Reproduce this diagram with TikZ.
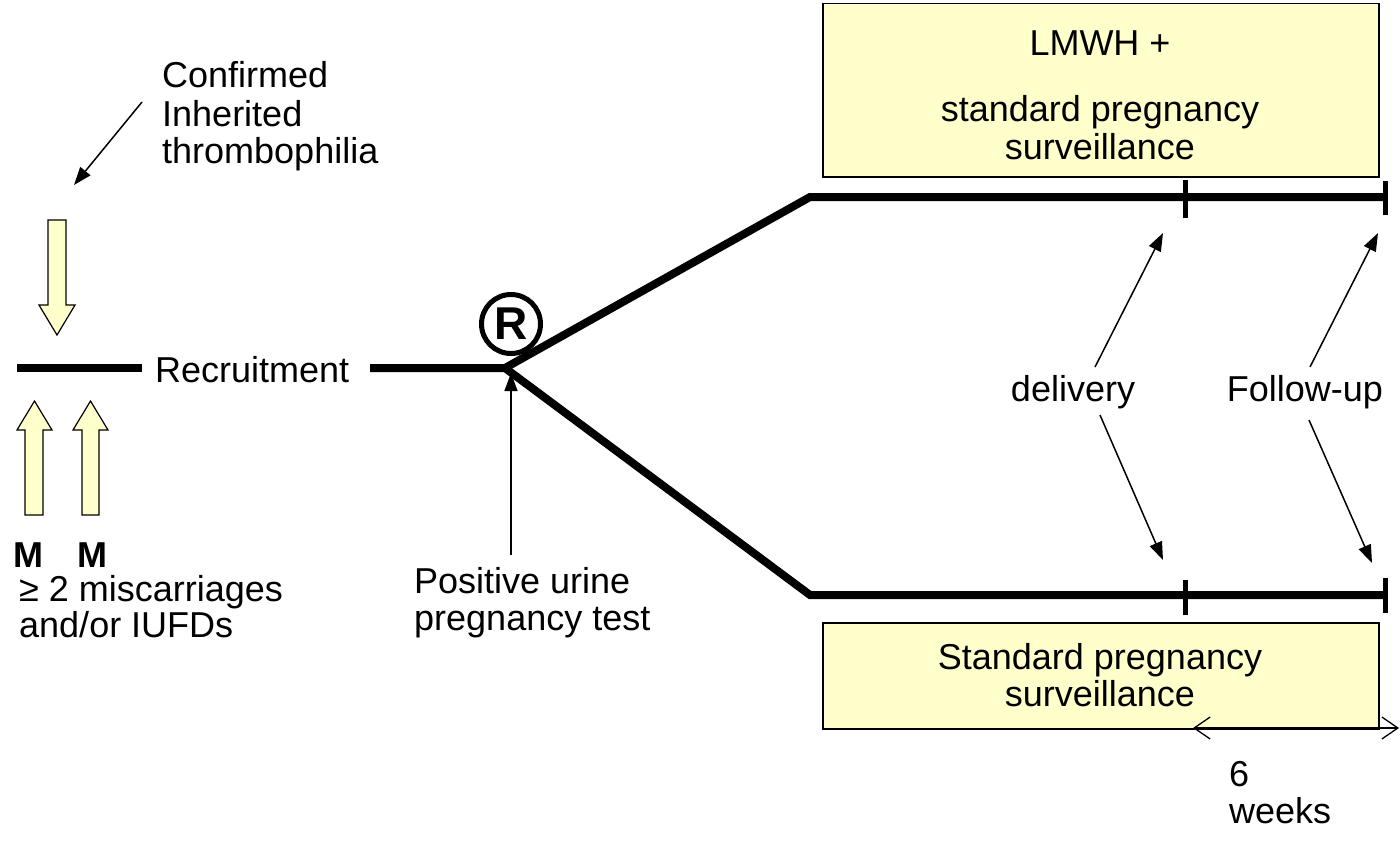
\documentclass[tikz,border=0pt]{standalone}
\usepackage{fontspec}
\setmainfont{Liberation Sans}
\usetikzlibrary{arrows.meta}
\definecolor{pale}{HTML}{FFFFCC}
\begin{document}
\begin{tikzpicture}[x=1pt,y=-1pt,
  txt/.style={font=\fontsize{36}{37.5}\selectfont, inner sep=0pt},
  mtxt/.style={font=\fontsize{36}{38}\selectfont\bfseries, inner sep=0pt},
  bar/.style={line width=8pt},
  tickmark/.style={line width=5pt},
  ptr/.style={line width=1.5pt,-{Triangle[length=18pt,width=13pt]}},
  span/.style={line width=1.3pt,{Straight Barb[length=16pt,width=22pt]}-{Straight Barb[length=16pt,width=22pt]}},
  box/.style={draw=black, line width=1.5pt, fill=pale, inner sep=0pt, anchor=north west},
  blk/.style={draw=black, line width=1.2pt, fill=pale, line join=miter}]
\useasboundingbox (0,0) rectangle (1400,843);

% boxes
\node[box, minimum width=556pt, minimum height=173pt] (topbox) at (822,3) {};
\node[box, minimum width=556pt, minimum height=106pt] (botbox) at (822,622) {};
\node[txt, anchor=base] (lmwh) at (1100,56) {LMWH +};
\node[txt, anchor=base] (sp1) at (1100,121) {standard pregnancy};
\node[txt, anchor=base] (sv1) at (1100,159) {surveillance};
\node[txt, anchor=base] (sp2) at (1100,669) {Standard pregnancy};
\node[txt, anchor=base] (sv2) at (1100,706) {surveillance};

% left texts
\node[txt, anchor=base west] (conf) at (162,88) {Confirmed};
\node[txt, anchor=base west] (inh) at (162,126) {Inherited};
\node[txt, anchor=base west] (thr) at (162,163) {thrombophilia};
\node[txt, anchor=base west] (recr) at (155,382) {Recruitment};
\node[mtxt, anchor=base] (m1) at (28,567) {M};
\node[mtxt, anchor=base] (m2) at (92,567) {M};
\node[txt, anchor=base west] (misc) at (19,601) {≥ 2 miscarriages};
\node[txt, anchor=base west] (iufd) at (19,637) {and/or IUFDs};
\node[txt, anchor=base west] (pos) at (414,593) {Positive urine};
\node[txt, anchor=base west] (pt) at (414,630) {pregnancy test};
\node[txt, anchor=base] (deliv) at (1073,401) {delivery};
\node[txt, anchor=base] (fu) at (1305,401) {Follow-up};
\node[txt, anchor=base west] (six) at (1229,786) {6};
\node[txt, anchor=base west] (wk) at (1229,823) {weeks};

% registered mark
\node[draw, circle, line width=5pt, minimum size=59pt, inner sep=0pt,
      font=\fontsize{46}{46}\selectfont\bfseries] (reg) at (511,324) {R};

% coordinates of the time lines
\coordinate (l1) at (17,368);
\coordinate (l2) at (142,368);
\coordinate (m0) at (370,368);
\coordinate (j) at (505,368);
\coordinate (u1) at (810,197);
\coordinate (u2) at (1385,197);
\coordinate (d1) at (810,595);
\coordinate (d2) at (1385,595);

\draw[bar] (l1) -- (l2);
\draw[bar] (m0) -- (j) -- (u1) -- (u2);
\draw[bar] (j) -- (d1) -- (d2);

% ticks
\coordinate (ta1) at (1185,180); \coordinate (ta2) at (1185,218);
\coordinate (tb1) at (1385,181); \coordinate (tb2) at (1385,215);
\coordinate (tc1) at (1185,580); \coordinate (tc2) at (1185,615);
\coordinate (td1) at (1385,578); \coordinate (td2) at (1385,613);
\draw[tickmark] (ta1) -- (ta2);
\draw[tickmark] (tb1) -- (tb2);
\draw[tickmark] (tc1) -- (tc2);
\draw[tickmark] (td1) -- (td2);

% block arrows
\draw[blk] (48,220) -- (66,220) -- (66,305) -- (75,305) -- (57,335) -- (39,305) -- (48,305) -- cycle;
\draw[blk] (25,515) -- (43,515) -- (43,430) -- (52,430) -- (34.5,401) -- (17,430) -- (25,430) -- cycle;
\draw[blk] (82,515) -- (99,515) -- (99,430) -- (108,430) -- (90.5,401) -- (73,430) -- (82,430) -- cycle;

% pointer arrows
\coordinate (c0) at (142,102); \coordinate (c1) at (74,185);
\draw[ptr] (c0) -- (c1);
\coordinate (p0) at (511,555); \coordinate (p1) at (511,373);
\draw[ptr] (p0) -- (p1);
\coordinate (dA) at (1095,367); \coordinate (dB) at (1163,233);
\coordinate (dC) at (1100,415); \coordinate (dD) at (1163,560);
\draw[ptr] (dA) -- (dB);
\draw[ptr] (dC) -- (dD);
\coordinate (fA) at (1310,367); \coordinate (fB) at (1378,233);
\coordinate (fC) at (1309,420); \coordinate (fD) at (1372,563);
\draw[ptr] (fA) -- (fB);
\draw[ptr] (fC) -- (fD);

% 6 weeks span
\coordinate (s0) at (1193,728); \coordinate (s1) at (1399,728);
\draw[span] (s0) -- (s1);
\end{tikzpicture}
\end{document}
